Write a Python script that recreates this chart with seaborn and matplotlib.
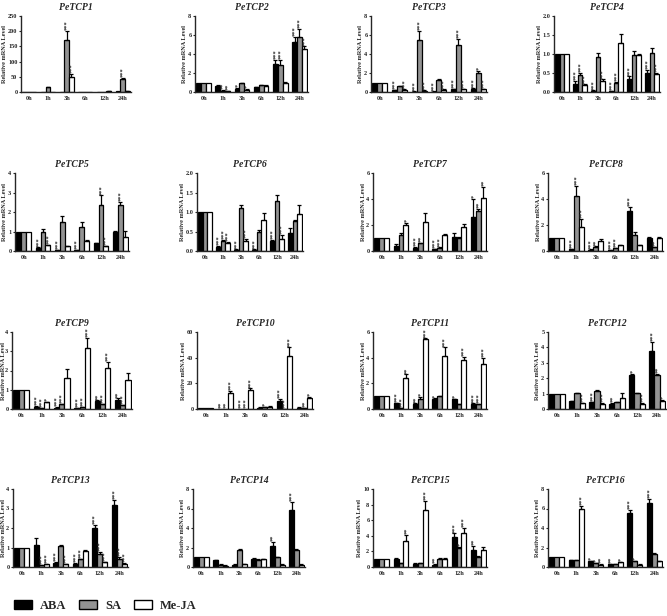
import numpy as np
import pandas as pd
import matplotlib
matplotlib.use("Agg")
import matplotlib.pyplot as plt
from matplotlib.patches import Patch
import seaborn as sns

times = ["0h", "1h", "3h", "6h", "12h", "24h"]
treatments = ["ABA", "SA", "Me-JA"]
genes = ["PeTCP%d" % i for i in range(1, 17)]
ymax = [250, 8, 8, 2.0, 4, 2.0, 6, 6, 4, 60, 6, 5, 4, 8, 10, 8]
ystep = [50, 2, 2, 0.5, 1, 0.5, 2, 2, 1, 20, 2, 1, 1, 2, 2, 2]

aba_mean = [
    [1, 1, 0.5, 0.3, 1, 2],
    [1, 0.65, 0.35, 0.5, 3.0, 5.3],
    [1, 0.2, 0.05, 0.05, 0.3, 0.35],
    [1, 0.2, 0.03, 0.02, 0.33, 0.49],
    [1, 0.15, 0.03, 0.05, 0.4, 1.0],
    [1, 0.1, 0.03, 0.03, 0.25, 0.45],
    [1, 0.4, 0.25, 0.15, 1.05, 2.65],
    [1, 0.15, 0.1, 0.05, 3.1, 1.0],
    [1, 0.12, 0.07, 0.05, 0.4, 0.45],
    [1, 0.1, 0.1, 1.0, 6, 1],
    [1, 0.45, 0.4, 0.8, 0.75, 0.4],
    [1, 0.5, 0.45, 0.35, 2.2, 3.75],
    [1, 1.15, 0.22, 0.17, 2.0, 3.2],
    [1, 0.7, 0.25, 0.85, 2.15, 5.8],
    [1, 1.0, 0.4, 0.3, 3.8, 2.2],
    [1, 0.7, 0.6, 0.3, 5.5, 6.6],
]
sa_mean = [
    [1, 15, 172, 0.3, 1, 43],
    [1, 0.15, 0.9, 0.7, 2.85, 5.8],
    [1, 0.6, 5.5, 1.25, 4.9, 2.0],
    [1, 0.45, 0.93, 0.25, 0.97, 1.02],
    [1, 0.95, 1.5, 1.25, 2.35, 2.35],
    [1, 0.25, 1.1, 0.48, 1.27, 0.78],
    [1, 1.2, 0.6, 0.25, 1.0, 3.1],
    [1, 4.2, 0.3, 0.2, 1.2, 0.3],
    [1, 0.03, 0.25, 0.08, 0.25, 0.2],
    [1, 0.1, 0.1, 1.5, 0.2, 0.5],
    [1, 0.05, 0.75, 1.0, 0.4, 0.4],
    [1, 1.02, 1.18, 0.45, 1.02, 2.2],
    [1, 0.1, 1.1, 0.4, 0.68, 0.42],
    [1, 0.25, 1.75, 0.75, 1.0, 1.75],
    [1, 0.5, 0.5, 1.0, 2.4, 1.3],
    [1, 0.7, 0.4, 0.3, 0.6, 1.3],
]
meja_mean = [
    [1, 1, 50, 0.3, 3, 3],
    [1, 0.1, 0.25, 0.65, 1.0, 4.5],
    [1, 0.25, 0.15, 0.25, 0.3, 0.3],
    [1, 0.18, 0.28, 1.3, 0.97, 0.48],
    [1, 0.3, 0.25, 0.52, 0.25, 0.7],
    [1, 0.2, 0.25, 0.8, 0.3, 0.95],
    [1, 2.0, 2.25, 1.25, 1.85, 4.05],
    [1, 1.85, 0.75, 0.45, 0.45, 1.0],
    [1, 0.35, 1.62, 3.15, 2.15, 1.5],
    [1, 12.5, 14.5, 1.8, 41, 8.5],
    [1, 2.45, 5.45, 4.15, 3.8, 3.5],
    [1, 0.38, 0.35, 0.72, 0.35, 0.55],
    [1, 0.15, 0.15, 0.8, 0.25, 0.17],
    [1, 0.15, 0.3, 0.8, 0.25, 0.25],
    [1, 3.3, 7.3, 1.0, 4.4, 2.2],
    [1, 6.0, 0.25, 0.5, 0.25, 0.6],
]
aba_err = [
    [0, 0, 0, 0, 0, 0],
    [0, 0.05, 0.05, 0.05, 0.4, 0.5],
    [0, 0.02, 0.01, 0.01, 0.03, 0.03],
    [0, 0.1, 0.01, 0.01, 0.08, 0.1],
    [0, 0.03, 0.01, 0.01, 0.03, 0.03],
    [0, 0.03, 0.01, 0.01, 0.03, 0.15],
    [0, 0.15, 0.05, 0.03, 0.3, 1.35],
    [0, 0.02, 0.02, 0.01, 0.3, 0.1],
    [0, 0.02, 0.02, 0.01, 0.05, 0.1],
    [0, 0, 0, 0.2, 2, 0.2],
    [0, 0.03, 0.03, 0.03, 0.03, 0.03],
    [0, 0.03, 0.03, 0.03, 0.08, 0.6],
    [0, 0.35, 0.03, 0.03, 0.15, 0.25],
    [0, 0.05, 0.03, 0.1, 0.4, 0.9],
    [0, 0.1, 0.05, 0.05, 0.5, 0.5],
    [0, 0.05, 0.05, 0.03, 0.35, 0.4],
]
sa_err = [
    [0, 2, 30, 0, 0, 4],
    [0, 0.03, 0.05, 0.05, 0.55, 0.8],
    [0, 0.05, 0.9, 0.1, 0.7, 0.2],
    [0, 0.05, 0.1, 0.02, 0.12, 0.13],
    [0, 0.2, 0.3, 0.25, 0.5, 0.15],
    [0, 0.03, 0.08, 0.05, 0.17, 0.01],
    [0, 0.2, 0.05, 0.03, 0.1, 0.15],
    [0, 0.8, 0.05, 0.03, 0.3, 0.03],
    [0, 0.01, 0.03, 0.01, 0.03, 0.02],
    [0, 0, 0, 0.2, 0.1, 0.1],
    [0, 0.01, 0.2, 0.02, 0.02, 0.02],
    [0, 0.05, 0.05, 0.03, 0.03, 0.1],
    [0, 0.02, 0.05, 0.03, 0.1, 0.08],
    [0, 0.03, 0.1, 0.05, 0.05, 0.05],
    [0, 0.05, 0.05, 0.1, 0.2, 0.1],
    [0, 0.05, 0.05, 0.03, 0.05, 0.1],
]
meja_err = [
    [0, 0, 10, 0, 0.5, 0.5],
    [0, 0.02, 0.05, 0.05, 0.05, 0.3],
    [0, 0.03, 0.02, 0.03, 0.03, 0.03],
    [0, 0.02, 0.05, 0.22, 0.02, 0.02],
    [0, 0.03, 0.03, 0.05, 0.03, 0.35],
    [0, 0.03, 0.05, 0.18, 0.12, 0.22],
    [0, 0.15, 0.7, 0.05, 0.2, 0.9],
    [0, 0.65, 0.2, 0.05, 0.03, 0.05],
    [0, 0.03, 0.48, 0.55, 0.3, 0.38],
    [0, 1.5, 1.5, 0.2, 7, 0.8],
    [0, 0.25, 0.05, 0.65, 0.25, 0.5],
    [0, 0.03, 0.03, 0.35, 0.03, 0.05],
    [0, 0.02, 0.02, 0.05, 0.03, 0.02],
    [0, 0.02, 0.03, 0.05, 0.03, 0.02],
    [0, 0.8, 1.2, 0.1, 0.6, 0.4],
    [0, 0.3, 0.03, 0.03, 0.03, 0.05],
]
aba_sig = [
    ["", "", "", "", "", ""],
    ["", "", "*", "", "***", "***"],
    ["", "***", "***", "***", "***", "***"],
    ["", "***", "***", "***", "***", "***"],
    ["", "***", "***", "***", "", ""],
    ["", "***", "***", "***", "***", ""],
    ["", "", "***", "***", "", "*"],
    ["", "***", "***", "***", "***", ""],
    ["", "***", "***", "***", "**", "**"],
    ["", "**", "***", "", "***", ""],
    ["", "***", "**", "*", "*", "***"],
    ["", "", "***", "**", "*", "***"],
    ["", "", "***", "***", "***", "***"],
    ["", "", "", "", "**", "***"],
    ["", "", "", "**", "***", "**"],
    ["", "", "*", "**", "***", "***"],
]
sa_sig = [
    ["", "", "***", "", "", "***"],
    ["", "**", "", "", "***", "***"],
    ["", "", "***", "", "***", "*"],
    ["", "***", "", "***", "", ""],
    ["", "", "", "", "***", "***"],
    ["", "***", "", "", "", ""],
    ["", "", "**", "***", "", "**"],
    ["", "***", "**", "***", "", "**"],
    ["", "***", "***", "***", "***", "***"],
    ["", "**", "***", "*", "***", "**"],
    ["", "***", "*", "", "", "***"],
    ["", "", "", "", "", "**"],
    ["", "***", "", "***", "***", "***"],
    ["", "", "", "", "", ""],
    ["", "", "", "", "*", ""],
    ["", "", "*", "", "*", ""],
]
meja_sig = [
    ["", "", "***", "", "", ""],
    ["", "**", "*", "", "", "***"],
    ["", "***", "***", "***", "***", "***"],
    ["", "***", "***", "", "", "***"],
    ["", "***", "", "", "***", ""],
    ["", "***", "***", "", "***", ""],
    ["", "*", "", "", "", "**"],
    ["", "***", "", "", "", ""],
    ["", "*", "", "***", "***", ""],
    ["", "***", "***", "", "***", "*"],
    ["", "**", "***", "***", "***", "***"],
    ["", "***", "***", "", "***", "*"],
    ["", "***", "***", "", "***", "***"],
    ["", "", "", "", "", ""],
    ["", "**", "***", "", "***", ""],
    ["", "***", "**", "*", "", ""],
]

colors = {"ABA": "#000000", "SA": "#939393", "Me-JA": "#ffffff"}

sns.set_style("ticks")
plt.rcParams["font.family"] = ["Liberation Serif", "DejaVu Serif"]
plt.rcParams["font.weight"] = "bold"

W, H = 667, 616
fig = plt.figure(figsize=(W / 100, H / 100), dpi=100)

# pixel boxes: (left, right) per panel, (top, bottom) per row
col_x = [
    [(21, 131), (195, 308), (371, 487), (554, 660)],
    [(15, 129), (197, 303), (373, 487), (548, 663)],
    [(12, 132), (197, 313), (373, 487), (548, 666)],
    [(13, 128), (193, 305), (373, 487), (548, 663)],
]
row_y = [(16, 92), (173, 251), (332, 409), (489, 567)]

for g in range(16):
    r, c = divmod(g, 4)
    x0, x1 = col_x[r][c]
    y0, y1 = row_y[r]
    ax = fig.add_axes([x0 / W, 1 - y1 / H, (x1 - x0) / W, (y1 - y0) / H])
    rows = []
    for trt, means in zip(treatments, [aba_mean, sa_mean, meja_mean]):
        for i, tm in enumerate(times):
            rows.append({"time": tm, "treatment": trt, "value": means[g][i]})
    df = pd.DataFrame(rows)
    sns.barplot(data=df, x="time", y="value", hue="treatment", order=times,
                hue_order=treatments, palette=colors, edgecolor="black",
                linewidth=0.9, errorbar=None, width=0.76, legend=False, ax=ax)
    bar_conts = list(ax.containers)
    errs = [aba_err, sa_err, meja_err]
    sigs = [aba_sig, sa_sig, meja_sig]
    for k, cont in enumerate(bar_conts):
        for i, bar in enumerate(cont.patches):
            xc = bar.get_x() + bar.get_width() / 2
            top = bar.get_height()
            e = errs[k][g][i]
            if e > 0:
                ax.errorbar(xc, top, yerr=[[0], [e]], fmt="none", ecolor="black",
                            elinewidth=0.9, capsize=1.6, capthick=0.9)
            s = sigs[k][g][i]
            if s:
                ax.annotate(s, (xc, top + e), xytext=(0.3, 0.6), textcoords="offset points",
                            rotation=90, ha="center", va="bottom", fontsize=4.6,
                            fontweight="bold", color="#222222")
    ax.set_ylim(0, ymax[g])
    ax.set_xlim(-0.45, 5.45)
    ticks = np.arange(0, ymax[g] + ystep[g] / 2, ystep[g])
    ax.set_yticks(ticks)
    if ystep[g] < 1:
        ax.set_yticklabels(["%.1f" % v for v in ticks])
    else:
        ax.set_yticklabels(["%d" % v for v in ticks])
    ax.set_xlabel("")
    ax.set_ylabel("Relative mRNA Level", fontsize=4.5, fontweight="bold", labelpad=0.5)
    if c == 0 and g != 0:
        # keep the label inside the figure's left edge
        ax.yaxis.set_label_coords(-(x0 - 6.5) / (x1 - x0), 0.5)
    ax.set_title(genes[g], fontsize=7, fontweight="bold", style="italic", pad=4)
    for sp in ["top", "right"]:
        ax.spines[sp].set_visible(False)
    for sp in ["left", "bottom"]:
        ax.spines[sp].set_linewidth(1.0)
    ax.tick_params(axis="both", labelsize=4.5, length=1.8, width=0.8, pad=0.8)
    ax.tick_params(axis="x", length=0, pad=3)
    for lab in ax.get_xticklabels() + ax.get_yticklabels():
        lab.set_fontweight("bold")

handles = [Patch(facecolor=colors[t], edgecolor="black", linewidth=1.0) for t in treatments]
fig.legend(handles, treatments, loc="lower left", bbox_to_anchor=(0.008, -0.008), ncol=3,
           frameon=False, handlelength=1.45, handleheight=0.75,
           columnspacing=1.0, handletextpad=0.65, borderpad=0.2,
           prop={"weight": "bold", "size": 9})

fig.savefig("out.png", dpi=100)
